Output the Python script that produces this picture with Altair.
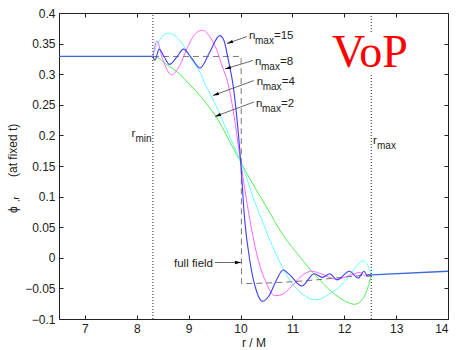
import math
import altair as alt
import pandas as pd

# ---------------- data ----------------
r_left = [6.5, 8.31]
phi_left = [0.329, 0.329]
r_right = [12.52, 14.0]
phi_right = [-0.028, -0.022]

r_full = [8.31, 10.01, 10.02, 12.52]
phi_full = [0.329, 0.329, -0.042, -0.027]

r_n2 = [8.31, 8.38, 8.57, 8.83, 9.02, 9.20, 9.44, 9.51, 9.79, 10.00, 10.18, 10.50,
        10.82, 11.14, 11.47, 11.75, 12.00, 12.20, 12.35, 12.45, 12.52]
phi_n2 = [0.329, 0.328, 0.316, 0.300, 0.283, 0.267, 0.241, 0.233, 0.190, 0.157, 0.129, 0.083,
          0.037, 0.002, -0.031, -0.055, -0.070, -0.076, -0.068, -0.050, -0.028]

r_n4 = [8.31, 8.40, 8.50, 8.61, 8.75, 8.90, 9.05, 9.22, 9.31, 9.45, 9.57, 9.70, 9.86, 10.00,
        10.28, 10.41, 10.69, 10.90, 11.10, 11.30, 11.46, 11.70, 12.01, 12.20, 12.36, 12.45, 12.52]
phi_n4 = [0.329, 0.350, 0.362, 0.367, 0.362, 0.347, 0.325, 0.303, 0.285, 0.262, 0.241, 0.215,
          0.185, 0.158, 0.090, 0.062, 0.005, -0.030, -0.052, -0.065, -0.069, -0.060, -0.039,
          -0.017, -0.005, -0.012, -0.028]

r_n8 = [8.31, 8.39, 8.50, 8.67, 8.80, 9.00, 9.15, 9.28, 9.40, 9.54, 9.66, 9.75, 9.86, 10.00,
        10.18, 10.31, 10.50, 10.66, 10.80, 11.00, 11.20, 11.37, 11.55, 11.85, 12.10, 12.30,
        12.42, 12.52]
phi_n8 = [0.329, 0.354, 0.324, 0.299, 0.310, 0.348, 0.368, 0.372, 0.362, 0.340, 0.310, 0.288,
          0.240, 0.158, 0.062, 0.007, -0.042, -0.062, -0.060, -0.045, -0.028, -0.022, -0.026,
          -0.035, -0.029, -0.024, -0.030, -0.028]

r_n15 = [8.31, 8.35, 8.43, 8.53, 8.63, 8.77, 8.90, 9.05, 9.22, 9.40, 9.60, 9.68, 9.76, 9.86,
         10.00, 10.08, 10.18, 10.31, 10.42, 10.55, 10.70, 10.82, 10.95, 11.18, 11.42, 11.58,
         11.72, 11.86, 12.10, 12.27, 12.38, 12.45, 12.52]
phi_n15 = [0.329, 0.323, 0.341, 0.328, 0.316, 0.328, 0.341, 0.327, 0.310, 0.335, 0.363, 0.355,
           0.325, 0.280, 0.160, 0.062, -0.005, -0.055, -0.071, -0.062, -0.035, -0.020, -0.028,
           -0.046, -0.026, -0.032, -0.026, -0.036, -0.022, -0.033, -0.022, -0.030, -0.028]

x_ticks = [7, 8, 9, 10, 11, 12, 13, 14]
y_ticks = [-0.1, -0.05, 0, 0.05, 0.1, 0.15, 0.2, 0.25, 0.3, 0.35, 0.4]

r_min, r_max = 8.31, 12.52

# annotation labels (data units)
nmax_text = ["=15", "=8", "=4", "=2"]
nmax_x = [10.163, 10.279, 10.311, 10.298]
nmax_y = [0.357, 0.315, 0.282, 0.247]
arrow_x1 = [10.125, 10.240, 10.259, 10.259, 9.508]
arrow_y1 = [0.3616, 0.3224, 0.2897, 0.2546, -0.0077]
arrow_x2 = [9.739, 9.700, 9.469, 9.508, 10.009]
arrow_y2 = [0.3502, 0.3085, 0.2652, 0.2309, -0.0077]

# ---------------- layout ----------------
W, H = 389, 306
X0, X1 = 6.5, 14.0
Y0, Y1 = -0.1, 0.4
SX = W / (X1 - X0)
SY = H / (Y1 - Y0)

xscale = alt.Scale(domain=[X0, X1], nice=False, zero=False)
yscale = alt.Scale(domain=[Y0, Y1], nice=False, zero=False)

FONT = "Liberation Sans"
TXT = "#222222"

ax_bottom = alt.Axis(orient="bottom", values=x_ticks, offset=-4, tickSize=4, domain=False,
                     grid=False, labelPadding=4, format="d", title="r / M", titlePadding=3,
                     labelFont=FONT, labelFontSize=12, labelColor=TXT, tickColor=TXT,
                     titleFont=FONT, titleFontSize=12, titleFontWeight="normal", titleColor=TXT)
ax_left = alt.Axis(orient="left", values=y_ticks, offset=-4, tickSize=4, domain=False,
                   grid=False, labelPadding=4, format="~g", title=None,
                   labelFont=FONT, labelFontSize=12, labelColor=TXT, tickColor=TXT)
ax_top = alt.Axis(orient="top", values=x_ticks, offset=-4, tickSize=4, domain=False,
                  grid=False, labels=False, title=None, tickColor=TXT)
ax_right = alt.Axis(orient="right", values=y_ticks, offset=-4, tickSize=4, domain=False,
                    grid=False, labels=False, title=None, tickColor=TXT)


def X(f="x", axis=None):
    return alt.X(f"{f}:Q", scale=xscale, axis=axis)


def Y(f="y", axis=None):
    return alt.Y(f"{f}:Q", scale=yscale, axis=axis)


def line(xs, ys, color, width=1.0, dash=None, xa=None, ya=None):
    df = pd.DataFrame({"x": xs, "y": ys})
    kw = dict(color=color, strokeWidth=width, interpolate="monotone", clip=True)
    if dash:
        kw["strokeDash"] = dash
    return alt.Chart(df).mark_line(**kw).encode(x=X("x", xa), y=Y("y", ya))


layers = []

# main axes carried by green layer, top/right ticks by exterior-left layer
layers.append(line(r_n2, phi_n2, "#55ee55", 1.0, xa=ax_bottom, ya=ax_left))
layers.append(line(r_left, phi_left, "#3d68d8", 1.3, xa=ax_top, ya=ax_right))
layers.append(line(r_right, phi_right, "#3d68d8", 1.3))
layers.append(line(r_n4, phi_n4, "#66ffff", 1.0))
layers.append(line(r_n8, phi_n8, "#ff66ff", 1.0))
layers.append(line(r_full, phi_full, "#777777", 1.0, dash=[6, 4]))
layers.append(line(r_n15, phi_n15, "#3f3ff8", 1.1))

# dotted r_min / r_max lines (r_max interrupted by the VoP label box)
vr = pd.DataFrame({"x": [r_min, r_max, r_max], "y": [Y0, Y0, 0.369], "y2": [Y1, 0.302, Y1]})
layers.append(alt.Chart(vr).mark_rule(color="#222222", strokeDash=[1, 2], strokeWidth=1).encode(
    x=X("x"), y=Y("y"), y2="y2"))

# arrows
arr = pd.DataFrame({"x": arrow_x1, "y": arrow_y1, "x2": arrow_x2, "y2": arrow_y2})
layers.append(alt.Chart(arr).mark_rule(color="#444444", strokeWidth=0.8).encode(
    x=X("x"), y=Y("y"), x2="x2", y2="y2"))

heads = []
for x1, y1, x2, y2 in zip(arrow_x1, arrow_y1, arrow_x2, arrow_y2):
    ux = (x2 - x1) * SX
    uy = -(y2 - y1) * SY
    ln = math.hypot(ux, uy)
    ang = math.degrees(math.atan2(ux, -uy)) % 360
    cx = x2 - 3.0 * ux / ln / SX
    cy = y2 + 3.0 * uy / ln / SY
    heads.append({"x": cx, "y": cy, "ang": ang})
layers.append(alt.Chart(pd.DataFrame(heads)).mark_point(
    shape="M0,-1L0.55,1L-0.55,1Z", filled=True, color="black", opacity=1, size=36,
    strokeWidth=0).encode(x=X("x"), y=Y("y"), angle=alt.Angle("ang:Q", scale=None)))

# n_max labels
nl = pd.DataFrame({"x": nmax_x, "y": nmax_y, "t": nmax_text})
base_t = dict(align="left", baseline="alphabetic", font=FONT, color=TXT)
layers.append(alt.Chart(nl).mark_text(text="n", fontSize=11.5, **base_t).encode(x=X("x"), y=Y("y")))
layers.append(alt.Chart(nl).mark_text(text="max", fontSize=10, dx=6, dy=5, **base_t).encode(x=X("x"), y=Y("y")))
layers.append(alt.Chart(nl).mark_text(fontSize=11.5, dx=25, **base_t).encode(x=X("x"), y=Y("y"), text="t:N"))

# r_min / r_max labels
rl = pd.DataFrame({"x": [7.898, 12.554], "y": [0.1974, 0.186], "s": ["min", "max"]})
layers.append(alt.Chart(rl).mark_text(text="r", fontSize=11.5, **base_t).encode(x=X("x"), y=Y("y")))
layers.append(alt.Chart(rl).mark_text(fontSize=10, dx=4, dy=5, **base_t).encode(x=X("x"), y=Y("y"), text="s:N"))

# full field label
ff = pd.DataFrame({"x": [9.469], "y": [-0.0145], "t": ["full field"]})
layers.append(alt.Chart(ff).mark_text(fontSize=11.5, align="right", baseline="alphabetic",
                                      font=FONT, color=TXT).encode(x=X("x"), y=Y("y"), text="t:N"))

# VoP
vop = pd.DataFrame({"x": [12.496], "y": [0.3118], "t": ["VoP"]})
layers.append(alt.Chart(vop).mark_text(fontSize=46, align="center", baseline="alphabetic",
                                       font="Liberation Serif", color="#ff0000").encode(
    x=X("x"), y=Y("y"), text="t:N"))

# y-axis title pieces (rotated)
yt = pd.DataFrame({"t": ["ϕ", ",r", "(at fixed t)"]})
rot = dict(angle=270, align="left", baseline="alphabetic", font=FONT, color=TXT)
layers.append(alt.Chart(yt.iloc[[0]]).mark_text(fontSize=12, **rot).encode(
    x=alt.value(-42), y=alt.value(200), text="t:N"))
layers.append(alt.Chart(yt.iloc[[1]]).mark_text(fontSize=9, **rot).encode(
    x=alt.value(-40), y=alt.value(189), text="t:N"))
layers.append(alt.Chart(yt.iloc[[2]]).mark_text(fontSize=12, **rot).encode(
    x=alt.value(-42), y=alt.value(164), text="t:N"))

chart = alt.layer(*layers).resolve_axis(x="independent", y="independent").properties(
    width=W, height=H,
    autosize=alt.AutoSizeParams(type="none"),
    padding={"left": 59, "top": 13, "right": 9, "bottom": 31},
    background="white",
).configure_view(stroke="#222222", strokeWidth=1)

chart.save("out.html", embed_options={"renderer": "svg", "actions": False})
